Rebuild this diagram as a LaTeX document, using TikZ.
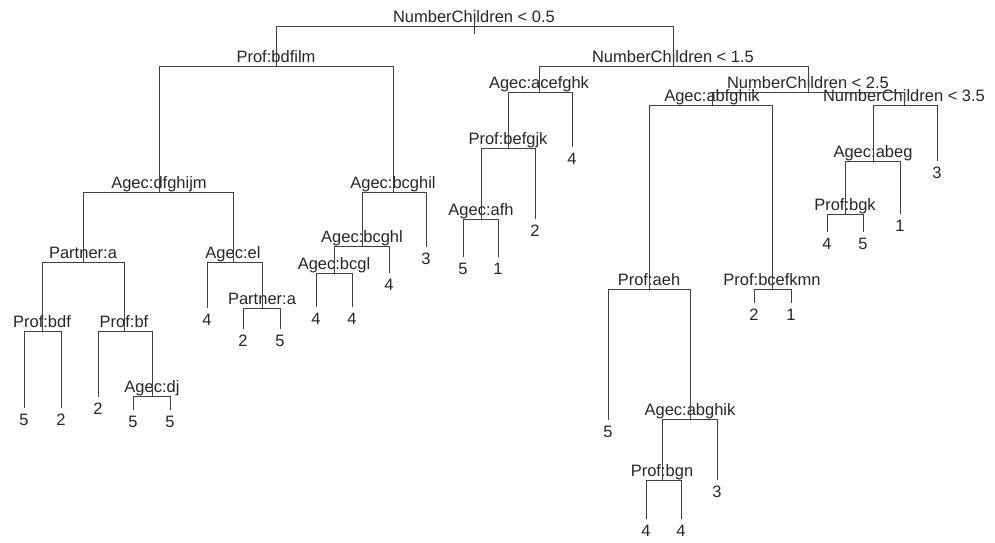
\documentclass[tikz,border=0pt]{standalone}
\usepackage{fontspec}
\setmainfont{Liberation Sans}

\begin{document}
\begin{tikzpicture}[x=1pt, y=-1pt,
  branch/.style={draw=black!75, line width=0.8pt},
  split/.style={anchor=base, yshift=4pt, inner sep=0pt, text=black!85,
                font=\fontsize{16.5}{18}\selectfont},
  leaf/.style={anchor=north, inner xsep=0pt, inner ysep=6pt, text=black!85,
               font=\fontsize{16.5}{18}\selectfont}]
  \useasboundingbox (0,0) rectangle (995,542);

  % split points
  \coordinate (n1) at (474,26);
  \coordinate (n2) at (276,66);
  \coordinate (n4) at (159,192);
  \coordinate (n8) at (83,262);
  \coordinate (n16) at (42,331);
  \coordinate (n17) at (124,331);
  \coordinate (n35) at (152,396);
  \coordinate (n9) at (233,262);
  \coordinate (n19) at (262,308);
  \coordinate (n5) at (393,192);
  \coordinate (n10) at (362,246);
  \coordinate (n20) at (334,273);
  \coordinate (n3) at (673,66);
  \coordinate (n6) at (539,92);
  \coordinate (n12) at (508,148);
  \coordinate (n24) at (481,219);
  \coordinate (n7) at (808,92);
  \coordinate (n14) at (712,105);
  \coordinate (n28) at (649,289);
  \coordinate (n57) at (690,419);
  \coordinate (n114) at (662,480);
  \coordinate (n29) at (772,289);
  \coordinate (n15) at (904,105);
  \coordinate (n30) at (873,161);
  \coordinate (n60) at (845,214);

  % split labels
  \node[split] (t1) at (n1) {NumberChildren < 0.5};
  \node[split] (t2) at (n2) {Prof:bdfilm};
  \node[split] (t4) at (n4) {Agec:dfghijm};
  \node[split] (t8) at (n8) {Partner:a};
  \node[split] (t16) at (n16) {Prof:bdf};
  \node[split] (t17) at (n17) {Prof:bf};
  \node[split] (t35) at (n35) {Agec:dj};
  \node[split] (t9) at (n9) {Agec:el};
  \node[split] (t19) at (n19) {Partner:a};
  \node[split] (t5) at (n5) {Agec:bcghil};
  \node[split] (t10) at (n10) {Agec:bcghl};
  \node[split] (t20) at (n20) {Agec:bcgl};
  \node[split] (t3) at (n3) {NumberChildren < 1.5};
  \node[split] (t6) at (n6) {Agec:acefghk};
  \node[split] (t12) at (n12) {Prof:befgjk};
  \node[split] (t24) at (n24) {Agec:afh};
  \node[split] (t7) at (n7) {NumberChildren < 2.5};
  \node[split] (t14) at (n14) {Agec:abfghik};
  \node[split] (t28) at (n28) {Prof:aeh};
  \node[split] (t57) at (n57) {Agec:abghik};
  \node[split] (t114) at (n114) {Prof:bgn};
  \node[split] (t29) at (n29) {Prof:bcefkmn};
  \node[split] (t15) at (n15) {NumberChildren < 3.5};
  \node[split] (t30) at (n30) {Agec:abeg};
  \node[split] (t60) at (n60) {Prof:bgk};

  % leaves
  \node[leaf] (v32) at (24,408) {5};
  \node[leaf] (v33) at (61,408) {2};
  \node[leaf] (v34) at (98,397) {2};
  \node[leaf] (v70) at (133,410) {5};
  \node[leaf] (v71) at (170,410) {5};
  \node[leaf] (v18) at (207,308) {4};
  \node[leaf] (v38) at (243,329) {2};
  \node[leaf] (v39) at (280,329) {5};
  \node[leaf] (v11) at (426,247) {3};
  \node[leaf] (v21) at (389,273) {4};
  \node[leaf] (v40) at (316,307) {4};
  \node[leaf] (v41) at (352,307) {4};
  \node[leaf] (v13) at (572,147) {4};
  \node[leaf] (v25) at (535,219) {2};
  \node[leaf] (v48) at (463,257) {5};
  \node[leaf] (v49) at (498,257) {1};
  \node[leaf] (v56) at (608,420) {5};
  \node[leaf] (v115) at (717,480) {3};
  \node[leaf] (v228) at (646,519) {4};
  \node[leaf] (v229) at (681,519) {4};
  \node[leaf] (v58) at (754,303) {2};
  \node[leaf] (v59) at (791,303) {1};
  \node[leaf] (v31) at (937,161) {3};
  \node[leaf] (v61) at (900,214) {1};
  \node[leaf] (v120) at (827,232) {4};
  \node[leaf] (v121) at (863,232) {5};

  % branches
  \draw[branch] (n1) ++(0,-7) -- ++(0,15);
  \draw[branch] (n1) -| (n2);   \draw[branch] (n1) -| (n3);
  \draw[branch] (n2) -| (n4);   \draw[branch] (n2) -| (n5);
  \draw[branch] (n4) -| (n8);   \draw[branch] (n4) -| (n9);
  \draw[branch] (n8) -| (n16);  \draw[branch] (n8) -| (n17);
  \draw[branch] (n16) -| (v32); \draw[branch] (n16) -| (v33);
  \draw[branch] (n17) -| (v34); \draw[branch] (n17) -| (n35);
  \draw[branch] (n35) -| (v70); \draw[branch] (n35) -| (v71);
  \draw[branch] (n9) -| (v18);  \draw[branch] (n9) -| (n19);
  \draw[branch] (n19) -| (v38); \draw[branch] (n19) -| (v39);
  \draw[branch] (n5) -| (n10);  \draw[branch] (n5) -| (v11);
  \draw[branch] (n10) -| (n20); \draw[branch] (n10) -| (v21);
  \draw[branch] (n20) -| (v40); \draw[branch] (n20) -| (v41);
  \draw[branch] (n3) -| (n6);   \draw[branch] (n3) -| (n7);
  \draw[branch] (n6) -| (n12);  \draw[branch] (n6) -| (v13);
  \draw[branch] (n12) -| (n24); \draw[branch] (n12) -| (v25);
  \draw[branch] (n24) -| (v48); \draw[branch] (n24) -| (v49);
  \draw[branch] (n7) -| (n14);  \draw[branch] (n7) -| (n15);
  \draw[branch] (n14) -| (n28); \draw[branch] (n14) -| (n29);
  \draw[branch] (n28) -| (v56); \draw[branch] (n28) -| (n57);
  \draw[branch] (n57) -| (n114); \draw[branch] (n57) -| (v115);
  \draw[branch] (n114) -| (v228); \draw[branch] (n114) -| (v229);
  \draw[branch] (n29) -| (v58); \draw[branch] (n29) -| (v59);
  \draw[branch] (n15) -| (n30); \draw[branch] (n15) -| (v31);
  \draw[branch] (n30) -| (n60); \draw[branch] (n30) -| (v61);
  \draw[branch] (n60) -| (v120); \draw[branch] (n60) -| (v121);
\end{tikzpicture}
\end{document}
